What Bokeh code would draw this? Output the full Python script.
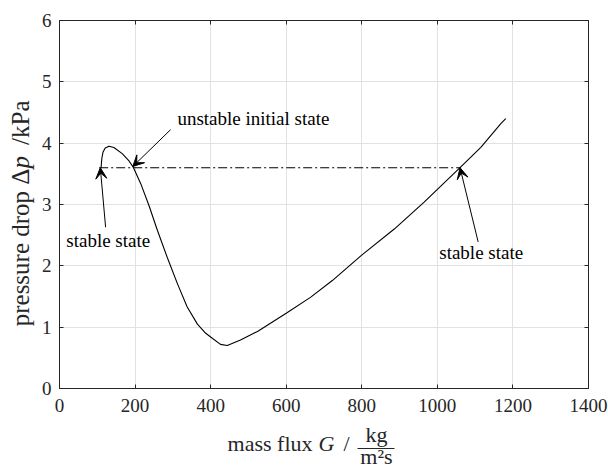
from math import pi
from bokeh.plotting import figure
from bokeh.layouts import column, row
from bokeh.models import (Label, Arrow, VeeHead, LinearAxis, FixedTicker, Range1d,
                          CustomLabelingPolicy)
from bokeh.embed import file_html
from bokeh.resources import INLINE

# ---- data ----
G = [110, 112, 115, 121, 131, 144, 166, 184, 195, 215, 237, 259, 285, 312, 338, 365,
     387, 400, 426, 444, 479, 524, 601, 665, 722, 799, 886, 965, 1060, 1115, 1168, 1181]
dp = [3.60, 3.75, 3.85, 3.92, 3.95, 3.93, 3.83, 3.71, 3.61, 3.34, 2.98, 2.58, 2.14, 1.71, 1.33, 1.05,
      0.90, 0.84, 0.72, 0.70, 0.79, 0.93, 1.23, 1.49, 1.76, 2.17, 2.60, 3.04, 3.60, 3.93, 4.32, 4.40]

level_G = [105, 1062]
level_dp = [3.6, 3.6]

x_ticks = [0, 200, 400, 600, 800, 1000, 1200, 1400]
y_ticks = [0, 1, 2, 3, 4, 5, 6]

# annotations: (text, G, dp) and arrows (G_start, dp_start, G_end, dp_end)
notes = [("unstable initial state", 312, 4.41),
         ("stable state", 18, 2.41),
         ("stable state", 1005, 2.22)]
arrows = [(294, 4.22, 194, 3.62),
          (122, 2.63, 108, 3.60),
          (1108, 2.39, 1060, 3.60)]

FONT = "Liberation Serif"
INK = "#262626"

W_Y = 38      # width of the y-title strip
H_MAIN = 420  # height of the main plot
W_ALL, H_ALL = 608, 471

p = figure(width=W_ALL - W_Y, height=H_MAIN, output_backend="svg", toolbar_location=None,
           x_range=Range1d(0, 1400), y_range=Range1d(0, 6),
           min_border_left=21, min_border_right=20, min_border_top=20, min_border_bottom=32,
           background_fill_color="white", border_fill_color="white")

no_labels = CustomLabelingPolicy(code="return new Set()")
p.add_layout(LinearAxis(major_label_policy=no_labels), "above")
p.add_layout(LinearAxis(major_label_policy=no_labels), "right")

for ax in p.xaxis:
    ax.ticker = FixedTicker(ticks=x_ticks)
for ax in p.yaxis:
    ax.ticker = FixedTicker(ticks=y_ticks)

for ax in p.axis:
    ax.major_tick_in = 4
    ax.major_tick_out = 0
    ax.minor_tick_in = 0
    ax.minor_tick_out = 0
    ax.axis_line_color = INK
    ax.major_tick_line_color = INK
    ax.major_label_text_font = FONT
    ax.major_label_text_font_size = "19px"
    ax.major_label_text_color = INK
    ax.major_label_standoff = 8

p.below[0].major_label_standoff = 10

for ax in p.above + p.right:
    ax.major_label_standoff = 0

p.xgrid.ticker = FixedTicker(ticks=x_ticks)
p.ygrid.ticker = FixedTicker(ticks=y_ticks)
p.grid.grid_line_color = "#e2e2e2"
p.grid.grid_line_width = 1
p.outline_line_color = INK
p.outline_line_width = 1

# curve and level line
p.line(G, dp, line_color="black", line_width=1.1)
p.line(level_G, level_dp, line_color="black", line_width=1.1, line_dash="9 3 2 3")

for (xs, ys, xe, ye) in arrows:
    p.add_layout(Arrow(x_start=xs, y_start=ys, x_end=xe, y_end=ye, line_color="black", line_width=1,
                       end=VeeHead(size=11, fill_color="black", line_color="black", line_width=1)))

for (t, gx, gy) in notes:
    p.add_layout(Label(x=gx, y=gy, text=t, text_font=FONT, text_font_size="19px",
                       text_color="black", text_baseline="middle", text_align="left"))


def strip(w, h, y_down):
    s = figure(width=w, height=h, output_backend="svg", toolbar_location=None,
               x_range=Range1d(0, w), y_range=Range1d(h, 0) if y_down else Range1d(0, h),
               x_axis_location=None, y_axis_location=None,
               min_border_left=0, min_border_right=0, min_border_top=0, min_border_bottom=0,
               background_fill_color="white", border_fill_color="white", outline_line_color=None)
    for g in s.grid:
        g.visible = False
    return s


# ---- y-axis title strip: pressure drop Δp /kPa (rotated, reading upward) ----
ys = strip(W_Y, H_MAIN, y_down=False)
rot_kw = dict(text_font=FONT, text_color=INK, text_font_size="25px",
              text_baseline="alphabetic", angle=pi / 2)
ys.add_layout(Label(x=20, y=251, text="pressure drop Δ", text_align="right", **rot_kw))
ys.add_layout(Label(x=20, y=251, text="p", text_align="left", text_font_style="italic", **rot_kw))
ys.add_layout(Label(x=20, y=278, text="/kPa", text_align="left", **rot_kw))

# ---- x-axis title strip: mass flux G / (kg over m²s) ----
H_X = H_ALL - H_MAIN
xs_ = strip(W_ALL, H_X, y_down=True)
lab_kw = dict(text_font=FONT, text_color=INK, text_font_size="22px", text_baseline="alphabetic")
xs_.add_layout(Label(x=312, y=23, text="mass flux", text_align="right", **lab_kw))
xs_.add_layout(Label(x=318, y=23, text="G", text_align="left", text_font_style="italic", **lab_kw))
xs_.add_layout(Label(x=343, y=23, text="/", text_align="left", **lab_kw))
xs_.add_layout(Label(x=376, y=14, text="kg", text_align="center", **lab_kw))
xs_.add_layout(Label(x=376, y=36, text="m²s", text_align="center", **lab_kw))
xs_.line([357, 394], [28, 28], line_color=INK, line_width=1.2)

layout = column(row(ys, p, spacing=0), xs_, spacing=0)

open("out.html", "w").write(file_html(layout, INLINE))
